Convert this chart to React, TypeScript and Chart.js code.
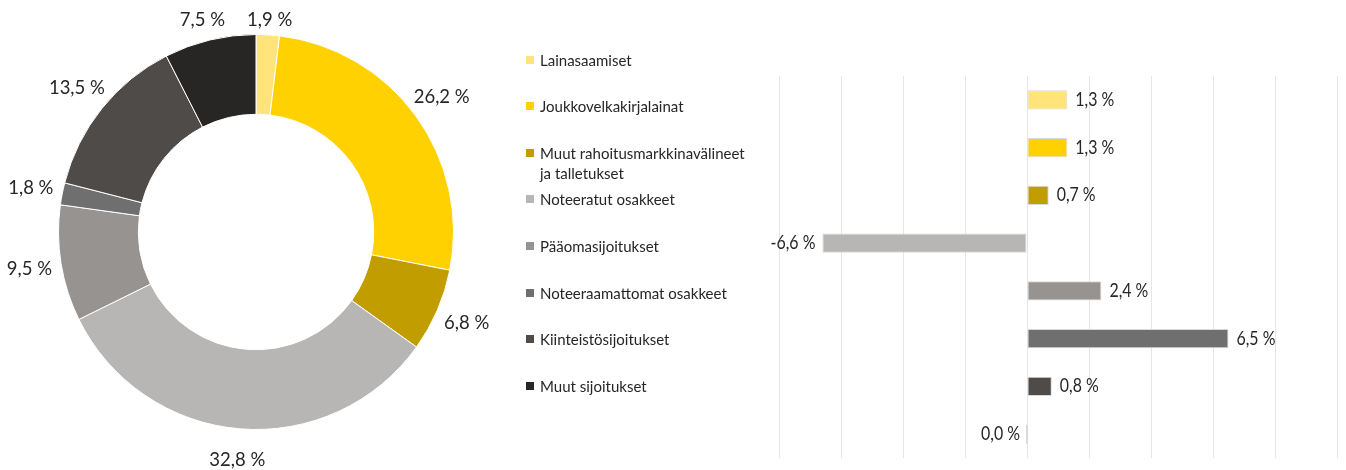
import React, { useEffect, useRef } from 'react';
import { Chart, registerables } from 'chart.js';

Chart.register(...registerables);

const categories = [
  'Lainasaamiset',
  'Joukkovelkakirjalainat',
  'Muut rahoitusmarkkinavälineet ja talletukset',
  'Noteeratut osakkeet',
  'Pääomasijoitukset',
  'Noteeraamattomat osakkeet',
  'Kiinteistösijoitukset',
  'Muut sijoitukset',
];
const colors = ['#FFE47C', '#FFD100', '#C19D00', '#B7B6B5', '#979391', '#6F6F6F', '#4E4B49', '#282624'];
const shares = [1.9, 26.2, 6.8, 32.8, 9.5, 1.8, 13.5, 7.5];
const returns = [1.3, 1.3, 0.7, -6.6, 2.4, 6.5, 0.8, 0.0];
const axisMin = -8;
const axisMax = 10;
const axisStep = 2;

const FONT = 'Lato, "Open Sans", sans-serif';
const TEXT = '#262626';

const fmt = (v: number) => v.toFixed(1).replace('.', ',') + ' %';

const donutLabels = {
  id: 'donutLabels',
  afterDatasetsDraw(chart: any) {
    const ctx = chart.ctx;
    const meta = chart.getDatasetMeta(0);
    ctx.save();
    ctx.font = `18.5px ${FONT}`;
    ctx.fillStyle = TEXT;
    ctx.textAlign = 'center';
    ctx.textBaseline = 'middle';
    meta.data.forEach((arc: any, i: number) => {
      const p = arc.getProps(['x', 'y', 'startAngle', 'endAngle', 'outerRadius'], true);
      const mid = (p.startAngle + p.endAngle) / 2;
      const r = p.outerRadius + 32;
      const lx = p.x + Math.cos(mid) * r;
      let ly = p.y + Math.sin(mid) * r;
      ly = Math.min(Math.max(ly, 20), chart.height - 10);
      ctx.fillText(fmt(shares[i]), lx, ly);
    });
    ctx.restore();
  },
};

const barLabels = {
  id: 'barLabels',
  afterDatasetsDraw(chart: any) {
    const ctx = chart.ctx;
    const meta = chart.getDatasetMeta(0);
    const zero = chart.scales.x.getPixelForValue(0);
    ctx.save();
    ctx.font = `18.5px ${FONT}`;
    ctx.fillStyle = TEXT;
    ctx.textBaseline = 'middle';
    meta.data.forEach((bar: any, i: number) => {
      const v = returns[i];
      const p = bar.getProps(['x', 'y'], true);
      const pos = v > 0;
      const edge = v === 0 ? zero : pos ? Math.max(p.x, zero) : Math.min(p.x, zero);
      ctx.save();
      ctx.translate(pos ? edge + 8 : edge - 7, p.y);
      ctx.scale(0.86, 1);
      ctx.textAlign = pos ? 'left' : 'right';
      ctx.fillText(fmt(v), 0, 0);
      ctx.restore();
    });
    ctx.restore();
  },
};

export default function App() {
  const donutRef = useRef<HTMLCanvasElement>(null);
  const barRef = useRef<HTMLCanvasElement>(null);

  useEffect(() => {
    const donut = new Chart(donutRef.current as HTMLCanvasElement, {
      type: 'doughnut',
      data: {
        labels: categories,
        datasets: [
          {
            data: shares,
            backgroundColor: colors,
            borderColor: '#ffffff',
            borderWidth: 1,
          },
        ],
      },
      options: {
        responsive: false,
        animation: false,
        cutout: '59.6%',
        layout: { padding: { left: 58, right: 58, top: 34, bottom: 40 } },
        plugins: { legend: { display: false }, tooltip: { enabled: false } },
      },
      plugins: [donutLabels],
    } as any);

    const bar = new Chart(barRef.current as HTMLCanvasElement, {
      type: 'bar',
      data: {
        labels: categories,
        datasets: [
          {
            data: returns,
            backgroundColor: colors,
            borderColor: '#D9D9D9',
            borderWidth: 1,
            borderSkipped: false,
            minBarLength: 2,
            barPercentage: 0.4,
            categoryPercentage: 1,
          },
        ],
      },
      options: {
        indexAxis: 'y',
        responsive: false,
        animation: false,
        layout: { padding: { left: 19, right: 9, top: 76, bottom: 12 } },
        plugins: { legend: { display: false }, tooltip: { enabled: false } },
        scales: {
          x: {
            min: axisMin,
            max: axisMax,
            ticks: { display: false, stepSize: axisStep },
            grid: { color: '#E6E6E6', lineWidth: 1, drawTicks: false },
            border: { display: false },
          },
          y: { display: false },
        },
      },
      plugins: [barLabels],
    } as any);

    return () => {
      donut.destroy();
      bar.destroy();
    };
  }, []);

  return (
    <div
      style={{
        position: 'absolute',
        left: 0,
        top: 0,
        width: 1346,
        height: 470,
        background: '#ffffff',
        overflow: 'hidden',
      }}
    >
      <canvas ref={donutRef} width={512} height={470} style={{ position: 'absolute', left: 0, top: 0 }} />
      <canvas ref={barRef} width={586} height={470} style={{ position: 'absolute', left: 760, top: 0 }} />
      {categories.map((c, i) => (
        <div
          key={c}
          style={{
            position: 'absolute',
            left: 526,
            top: 49.5 + i * 46.6,
            width: 240,
            fontFamily: FONT,
            fontSize: '15px',
            lineHeight: '20px',
            color: TEXT,
          }}
        >
          <span
            style={{
              position: 'absolute',
              left: 0,
              top: 6,
              width: 8,
              height: 8,
              background: colors[i],
            }}
          />
          <div style={{ marginLeft: 14, width: 212 }}>{c}</div>
        </div>
      ))}
    </div>
  );
}
